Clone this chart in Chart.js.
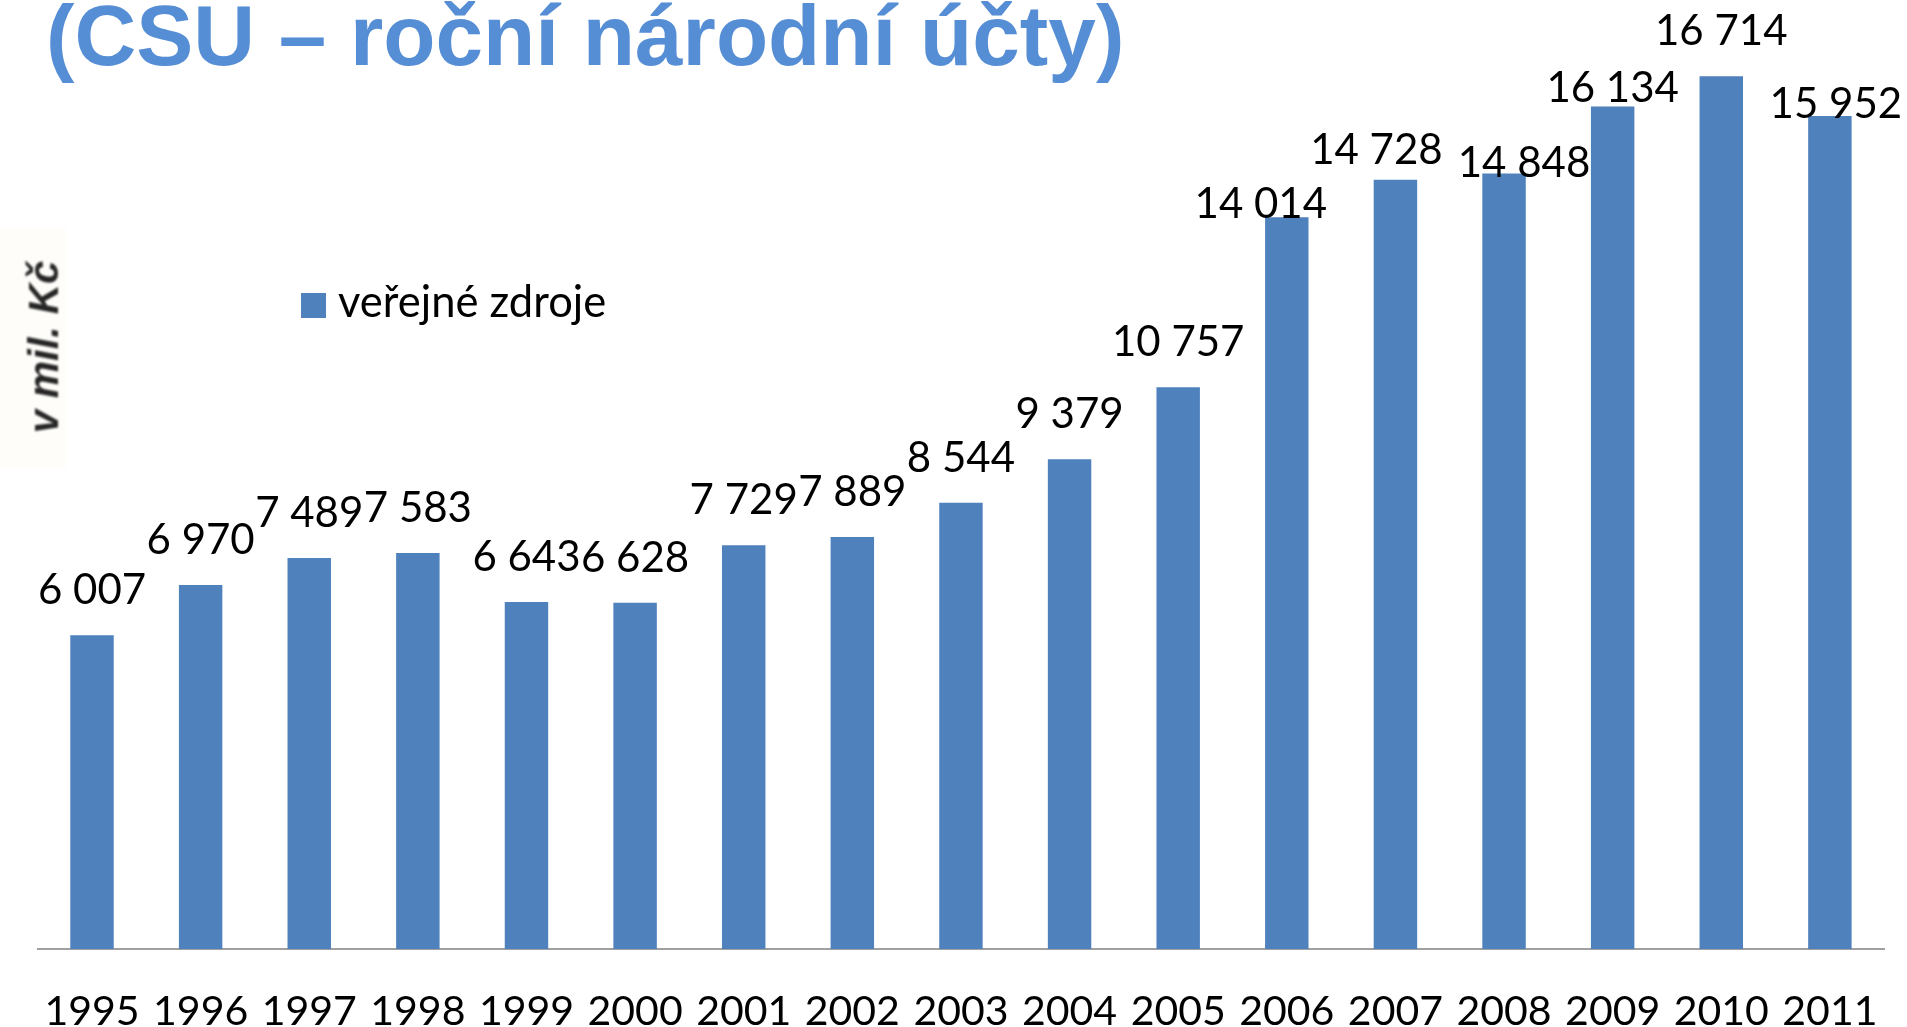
<!DOCTYPE html>
<html>
<head>
<meta charset="utf-8">
<script src="https://cdn.jsdelivr.net/npm/chart.js@4.4.1/dist/chart.umd.min.js"></script>
<style>
  html, body { margin: 0; padding: 0; background: #ffffff; overflow: hidden; width: 1907px; height: 1027px; }
  #wrap { position: relative; width: 1907px; height: 1027px; }
  #chart { position: absolute; left: 0; top: 0; }
  #title { position: absolute; left: 46px; top: -7px; font: bold 85.5px "Liberation Sans", Arial, sans-serif;
           color: #558ED5; line-height: 1; white-space: nowrap; }
  #ylabelbg { position: absolute; left: 0; top: 228px; width: 66px; height: 240px; background: #fefdfa; }
  #ylabel { position: absolute; left: -59px; top: 326px; width: 200px; height: 42px; line-height: 42px;
            text-align: center; transform: rotate(-90deg); font: italic bold 42px "Liberation Sans", Arial, sans-serif;
            color: #262626; filter: blur(0.8px); white-space: nowrap; }
  #legend { position: absolute; left: 301px; top: 280px; white-space: nowrap; }
  #legend .sw { position: absolute; left: 0; top: 13px; width: 25px; height: 25px; background: #4F81BD; }
  #legend .tx { position: absolute; left: 37px; top: -1px; font: 43.5px Lato, "Open Sans", sans-serif; line-height: 1; color: #000; }
</style>
</head>
<body>
<div id="wrap">
  <canvas id="chart" width="1907" height="1027"></canvas>
  <div id="ylabelbg"></div>
  <div id="ylabel">v mil. Kč</div>
  <div id="legend"><div class="sw"></div><div class="tx">veřejné zdroje</div></div>
  <div id="title">(CSU – roční národní účty)</div>
</div>
<script>
// ---- data ----
const years = ['1995','1996','1997','1998','1999','2000','2001','2002','2003','2004','2005','2006','2007','2008','2009','2010','2011'];
const publicSources = [6007, 6970, 7489, 7583, 6643, 6628, 7729, 7889, 8544, 9379, 10757, 14014, 14728, 14848, 16134, 16714, 15952];
const seriesName = 'veřejné zdroje';

// ---- label layout tweaks (pixel nudges of value labels, as placed in the original) ----
const labelNudgeX = [0,0,0,0,0,0,0,0,0,0,0,-26,-19,20,0,0,6];
const labelNudgeY = [0,0,0,0,0,0,0,0,0,0,0,32,15,34,27,0,33];

function fmt(v) {
  return String(v).replace(/\B(?=(\d{3})+(?!\d))/g, ' ');
}

const valueLabelPlugin = {
  id: 'valueLabels',
  afterDatasetsDraw(chart) {
    const ctx = chart.ctx;
    const meta = chart.getDatasetMeta(0);
    const vals = chart.data.datasets[0].data;
    ctx.save();
    ctx.font = '42px Lato, "Open Sans", sans-serif';
    ctx.fillStyle = '#000000';
    ctx.textAlign = 'center';
    ctx.textBaseline = 'alphabetic';
    meta.data.forEach((bar, i) => {
      ctx.fillText(fmt(vals[i]), bar.x + labelNudgeX[i], bar.y - 31 + labelNudgeY[i]);
    });
    ctx.restore();
  }
};

new Chart(document.getElementById('chart'), {
  type: 'bar',
  data: {
    labels: years,
    datasets: [{
      label: seriesName,
      data: publicSources,
      backgroundColor: '#4F81BD',
      borderWidth: 0,
      categoryPercentage: 1.0,
      barPercentage: 0.4
    }]
  },
  options: {
    responsive: false,
    animation: false,
    layout: { padding: { left: 37.7, right: 22.8, top: 9, bottom: 0 } },
    plugins: {
      legend: { display: false },
      title: { display: false },
      tooltip: { enabled: false }
    },
    scales: {
      x: {
        grid: { display: false, drawTicks: false },
        border: { display: true, color: '#A0A0A0', width: 2 },
        ticks: {
          color: '#000000',
          font: { family: 'Lato, "Open Sans", sans-serif', size: 41 },
          padding: 38,
          maxRotation: 0,
          autoSkip: false
        },
        afterFit(scale) {
          scale.height = 78;
          scale.paddingLeft = 0;
          scale.paddingRight = 0;
        }
      },
      y: {
        display: false,
        min: 0,
        max: 18000
      }
    }
  },
  plugins: [valueLabelPlugin]
});
</script>
</body>
</html>
